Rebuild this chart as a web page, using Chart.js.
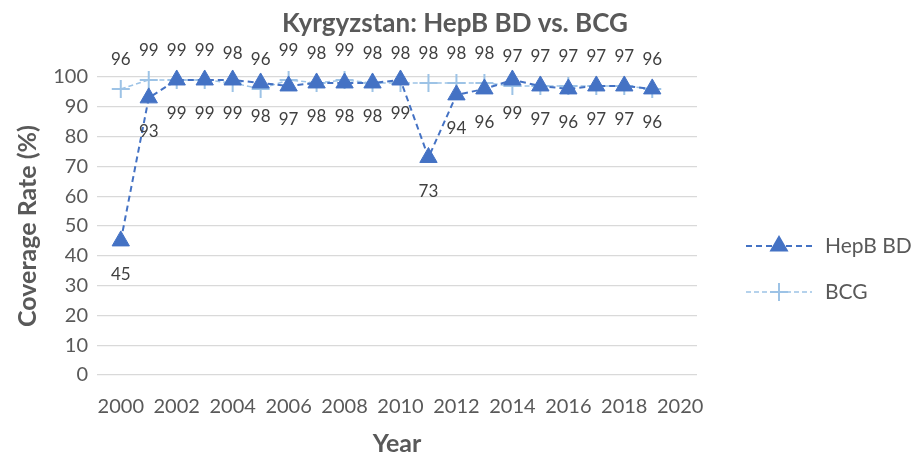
<!DOCTYPE html>
<html>
<head>
<meta charset="utf-8">
<script src="https://cdn.jsdelivr.net/npm/chart.js@4/dist/chart.umd.min.js"></script>
<style>
  html, body { margin: 0; padding: 0; background: #fff; }
  #wrap { width: 914px; height: 456px; position: relative; }
</style>
</head>
<body>
<div id="wrap"><canvas id="chart"></canvas></div>
<script>
// Données
const years = [2000, 2001, 2002, 2003, 2004, 2005, 2006, 2007, 2008, 2009,
               2010, 2011, 2012, 2013, 2014, 2015, 2016, 2017, 2018, 2019];
const hepbBD = [45, 93, 99, 99, 99, 98, 97, 98, 98, 98, 99, 73, 94, 96, 99, 97, 96, 97, 97, 96];
const bcg = [96, 99, 99, 99, 98, 96, 99, 98, 99, 98, 98, 98, 98, 98, 97, 97, 97, 97, 97, 96];
const xTicks = [2000, 2002, 2004, 2006, 2008, 2010, 2012, 2014, 2016, 2018, 2020];

const textColor = '#595959';
const labelColor = '#404040';
const hepbColor = '#4472C4';
const bcgColor = '#9DC3E6';
const fontFamily = 'Lato, "Open Sans", sans-serif';

function toPoints(values) {
    return years.map((y, i) => ({ x: y, y: values[i] }));
}

// Étiquettes de valeurs : HepB en dessous, BCG au dessus
const valueLabels = {
    id: 'valueLabels',
    afterDatasetsDraw(chart) {
        const ctx = chart.ctx;
        ctx.save();
        ctx.font = '17px ' + fontFamily;
        ctx.fillStyle = labelColor;
        ctx.textAlign = 'center';
        ctx.textBaseline = 'middle';
        chart.data.datasets.forEach((ds, di) => {
            const meta = chart.getDatasetMeta(di);
            meta.data.forEach((pt, i) => {
                const offset = di === 0 ? 34 : -29;
                ctx.fillText(String(ds.data[i].y), pt.x, pt.y + offset);
            });
        });
        ctx.restore();
    }
};

// Titre et légende dessinés à la main (style Excel)
const decorations = {
    id: 'decorations',
    afterDraw(chart) {
        const ctx = chart.ctx;
        ctx.save();
        ctx.font = 'bold 26px ' + fontFamily;
        ctx.fillStyle = textColor;
        ctx.textAlign = 'center';
        ctx.textBaseline = 'middle';
        ctx.fillText('Kyrgyzstan: HepB BD vs. BCG', 455, 24);

        const items = [
            { label: 'HepB BD', color: hepbColor, dash: [6, 4], width: 2, style: 'triangle', r: 9, y: 246 },
            { label: 'BCG', color: bcgColor, dash: [5, 3], width: 1.5, style: 'cross', r: 9, y: 292 }
        ];
        items.forEach(it => {
            ctx.strokeStyle = it.color;
            ctx.lineWidth = it.width;
            ctx.setLineDash(it.dash);
            ctx.beginPath();
            ctx.moveTo(746, it.y);
            ctx.lineTo(812, it.y);
            ctx.stroke();
            ctx.setLineDash([]);
            ctx.fillStyle = it.color;
            ctx.lineWidth = 2;
            Chart.helpers.drawPoint(ctx, { pointStyle: it.style, radius: it.r, borderWidth: 2 }, 779, it.y);
            ctx.fillStyle = textColor;
            ctx.font = '21px ' + fontFamily;
            ctx.textAlign = 'left';
            ctx.fillText(it.label, 825, it.y);
        });
        ctx.restore();
    }
};

new Chart(document.getElementById('chart'), {
    type: 'line',
    data: {
        datasets: [
            {
                label: 'HepB BD',
                data: toPoints(hepbBD),
                borderColor: hepbColor,
                backgroundColor: hepbColor,
                borderWidth: 2,
                borderDash: [6, 4],
                pointStyle: 'triangle',
                pointRadius: 10,
                pointBorderWidth: 1,
                pointBackgroundColor: hepbColor,
                pointBorderColor: hepbColor,
                tension: 0,
                clip: false
            },
            {
                label: 'BCG',
                data: toPoints(bcg),
                borderColor: bcgColor,
                backgroundColor: bcgColor,
                borderWidth: 1.5,
                borderDash: [5, 3],
                pointStyle: 'cross',
                pointRadius: 9,
                pointBorderWidth: 2,
                pointBorderColor: bcgColor,
                tension: 0,
                clip: false
            }
        ]
    },
    options: {
        responsive: true,
        maintainAspectRatio: false,
        animation: false,
        layout: { padding: { top: 77, right: 217, left: 0, bottom: 0 } },
        plugins: {
            legend: { display: false },
            title: { display: false },
            tooltip: { enabled: false }
        },
        scales: {
            x: {
                type: 'linear',
                min: 1999.15,
                max: 2020.6,
                afterBuildTicks(scale) {
                    scale.ticks = xTicks.map(v => ({ value: v }));
                },
                afterFit(scale) { scale.height = 81; },
                grid: { display: false, drawTicks: false },
                border: { display: false },
                ticks: {
                    color: textColor,
                    font: { family: fontFamily, size: 20 },
                    padding: 20,
                    maxRotation: 0,
                    autoSkip: false,
                    callback: v => String(v)
                },
                title: {
                    display: true,
                    text: 'Year',
                    color: textColor,
                    font: { family: fontFamily, size: 25, weight: 'bold' },
                    padding: { top: 0, bottom: -3 }
                }
            },
            y: {
                min: 0,
                max: 100,
                afterFit(scale) { scale.width = 97; },
                grid: { color: '#D9D9D9', lineWidth: 1.3, drawTicks: false },
                border: { display: false },
                ticks: {
                    stepSize: 10,
                    color: textColor,
                    font: { family: fontFamily, size: 20 },
                    padding: 9
                },
                title: {
                    display: true,
                    text: 'Coverage Rate (%)',
                    color: textColor,
                    font: { family: fontFamily, size: 25, weight: 'bold' },
                    padding: { top: 13, bottom: 0 }
                }
            }
        }
    },
    plugins: [valueLabels, decorations]
});
</script>
</body>
</html>
